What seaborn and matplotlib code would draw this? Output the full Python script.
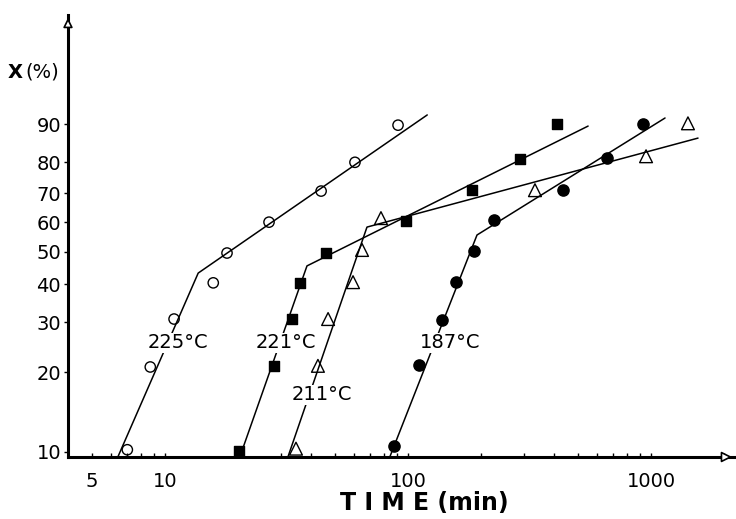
import numpy as np
import pandas as pd
import matplotlib
matplotlib.use("Agg")
import matplotlib.pyplot as plt
import matplotlib.ticker as mticker
import seaborn as sns

# Avrami plot: conversion X (%) vs crystallization time (min), four temperatures
t225 = [7.0, 8.7, 10.9, 15.8, 18.0, 26.8, 43.9, 60.5, 91.0]
x225 = [10.2, 20.9, 30.8, 40.4, 49.6, 60.0, 70.7, 80.0, 89.8]
t221 = [20.2, 28.1, 33.3, 35.9, 46.0, 98.1, 183, 289, 410]
x221 = [10.1, 21.1, 30.8, 40.4, 49.6, 60.4, 71.0, 81.0, 90.0]
t211 = [34.6, 42.6, 46.9, 59.4, 64.7, 77.4, 333, 954, 1419]
x211 = [10.3, 21.1, 30.8, 40.6, 50.6, 61.4, 71.0, 81.8, 90.2]
t187 = [87.6, 111, 138, 158, 187, 226, 435, 659, 927]
x187 = [10.5, 21.3, 30.6, 40.6, 50.3, 60.6, 71.0, 81.2, 90.0]

# fitted two-stage lines (start, kink, end)
fit225_t = [6.41, 13.7, 120]
fit225_x = [9.6, 43.3, 91.9]
fit221_t = [20.35, 38.4, 551]
fit221_x = [9.6, 45.5, 89.6]
fit211_t = [32.1, 67.8, 1561]
fit211_x = [9.6, 58.3, 86.75]
fit187_t = [84.3, 192.3, 1142]
fit187_x = [9.6, 55.6, 91.3]

temps = ["225°C", "221°C", "211°C", "187°C"]
label_t = [8.5, 23.5, 33.3, 112]
label_x = [25.5, 25.5, 16.5, 25.5]

y_ticks = [10, 20, 30, 40, 50, 60, 70, 80, 90]
x_ticks = [5, 10, 100, 1000]

sns.set_style("white")
plt.rcParams["font.family"] = ["DejaVu Sans"]
plt.rcParams["text.color"] = "black"
plt.rcParams["xtick.color"] = "black"
plt.rcParams["ytick.color"] = "black"


def fwd(x):
    x = np.clip(np.asarray(x, dtype=float), 1e-6, 100 - 1e-9)
    return np.log(-np.log(1 - x / 100.0))


def inv(y):
    return 100.0 * (1 - np.exp(-np.exp(y)))


fig = plt.figure(figsize=(7.36, 5.19), dpi=100)
ax = fig.add_axes([68 / 736, 62 / 519, (735 - 68) / 736, (457 - 15) / 519])

fits = [(fit225_t, fit225_x), (fit221_t, fit221_x), (fit211_t, fit211_x), (fit187_t, fit187_x)]
for (ft, fx) in fits:
    df = pd.DataFrame({"t": ft, "x": fx})
    sns.lineplot(data=df, x="t", y="x", sort=False, estimator=None,
                 color="black", linewidth=1.1, ax=ax)

series = [
    (t225, x225, "o", "none", 55),
    (t221, x221, "s", "black", 60),
    (t211, x211, "^", "none", 85),
    (t187, x187, "o", "black", 65),
]
for ts, xs, m, fc, s in series:
    sns.scatterplot(x=ts, y=xs, marker=m, s=s, facecolor=fc,
                    edgecolor="black", linewidth=1.0, ax=ax, zorder=3)

ax.set_xscale("log")
ax.set_yscale("function", functions=(fwd, inv))
ax.set_xlim(3.99, 2216)
ax.set_ylim(9.56, 99.84)

ax.xaxis.set_major_locator(mticker.FixedLocator(x_ticks))
ax.xaxis.set_major_formatter(mticker.FixedFormatter([str(v) for v in x_ticks]))
ax.xaxis.set_minor_locator(mticker.LogLocator(base=10, subs=np.arange(2, 10)))
ax.xaxis.set_minor_formatter(mticker.NullFormatter())
ax.yaxis.set_major_locator(mticker.FixedLocator(y_ticks))
ax.yaxis.set_major_formatter(mticker.FixedFormatter([str(v) for v in y_ticks]))
ax.yaxis.set_minor_locator(mticker.NullLocator())

ax.tick_params(axis="x", which="both", direction="in", length=3, width=1,
               labelsize=14, pad=11, bottom=True)
ax.tick_params(axis="y", direction="out", length=3, width=1,
               labelsize=14, pad=2, left=True)

for side in ["top", "right"]:
    ax.spines[side].set_visible(False)
for side in ["left", "bottom"]:
    ax.spines[side].set_linewidth(2.2)
    ax.spines[side].set_color("black")

ax.set_xlabel("")
ax.set_ylabel("")

# arrow heads on the axes
ax.annotate("", xy=(1.0, 0), xytext=(0.96, 0), xycoords="axes fraction",
            arrowprops=dict(arrowstyle="-|>", lw=1.2, color="black",
                            fc="white", mutation_scale=16), annotation_clip=False)
ax.annotate("", xy=(0, 1.0), xytext=(0, 0.94), xycoords="axes fraction",
            arrowprops=dict(arrowstyle="-|>", lw=1.2, color="black",
                            fc="white", mutation_scale=14), annotation_clip=False)

for name, lt, lx in zip(temps, label_t, label_x):
    ax.text(lt, lx, name, fontsize=14, ha="left", va="center", zorder=4,
            bbox=dict(facecolor="white", edgecolor="none", pad=0.3))

fig.text(0.011, 0.861, "X", fontsize=14, fontweight="bold", va="center")
fig.text(0.034, 0.861, "(%)", fontsize=14, va="center")
fig.text(0.577, 0.031, "T I M E (min)", fontsize=17, fontweight="bold",
         ha="center", va="center")

fig.savefig("out.png", dpi=100)
